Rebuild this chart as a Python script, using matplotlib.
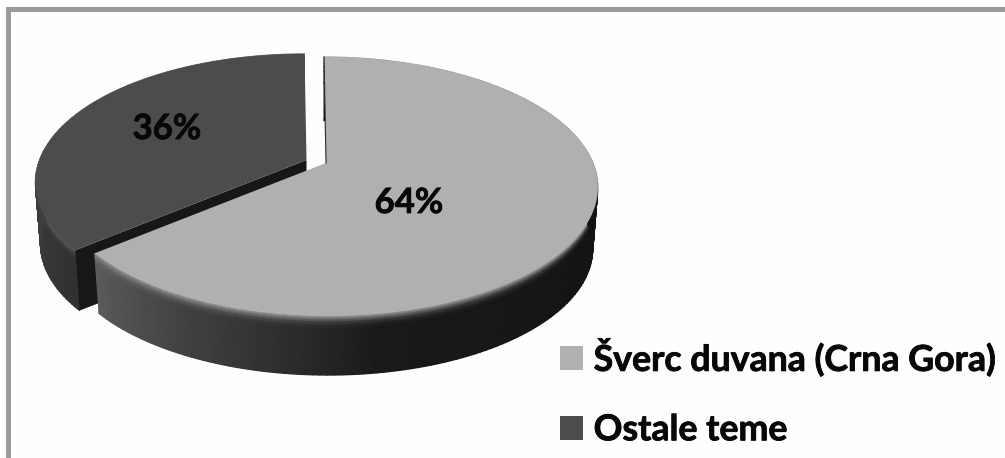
import numpy as np
import matplotlib
matplotlib.use("Agg")
import matplotlib.pyplot as plt
import matplotlib.patheffects as pe
from matplotlib.patches import Patch, Rectangle

# data
categories = ["Šverc duvana (Crna Gora)", "Ostale teme"]
values = [64, 36]

# style
top_colors = ["#b0b0b0", "#4c4c4c"]
frame_color = "#9b9b9e"
plt.rcParams["font.family"] = ["Lato", "DejaVu Sans"]
heft = [pe.withStroke(linewidth=0.6, foreground="#080808")]

fig = plt.figure(figsize=(10.05, 4.58), dpi=100, facecolor="#fefefe")
ax = fig.add_axes([0, 0, 1, 1])

# perspective pie geometry, in pixels
RX, RY, K, TILT = 267.0, 125.3, 0.181, 2.0
RX2, RY2, DEPTH = 262.0, 123.0, 62.0
CENTERS = [(326.0, 163.0), (306.5, 160.0)]


def project(theta, center, f=0.0):
    t = np.radians(theta)
    u, v = np.sin(t), -np.cos(t)
    s = 1.0 / (1.0 - K * v)
    x = center[0] + (RX + (RX2 - RX) * f) * u * s + TILT * v
    y = center[1] + DEPTH * f + (RY + (RY2 - RY) * f) * v * s
    return x, y


def wall(t0, t1, center, body_t, body_v, rim_f, rim_v, z):
    th = np.linspace(t0, t1, 180)
    fr = np.array([0.0, 0.05, 0.10, 0.16, 0.22, 0.4, 1.0])
    T, F = np.meshgrid(th, fr)
    X, Y = project(T, center, F)
    body = np.interp(T, body_t, body_v)
    rim = np.interp(T, body_t, rim_v)
    blend = np.interp(F, rim_f, [1.0, 0.62, 0.25, 0.0])
    C = body + (rim - body) * blend
    ax.pcolormesh(X, Y, C, shading="gouraud", cmap="gray", vmin=0, vmax=1, zorder=z)


bounds = np.concatenate([[0], np.cumsum(values)]) / np.sum(values) * 360.0
t_split = bounds[1]

# back slice (36 %)
c = CENTERS[1]
wall(t_split, 360.0, c, [230, 260, 300, 360], [0.19, 0.24, 0.27, 0.27],
     [0, 0.05, 0.10, 0.18], [0.36, 0.38, 0.40, 0.40], 2)
x0, y0 = project(t_split, c)
x1, y1 = project(t_split, c, 1.0)
ax.fill([c[0], x0, x1, c[0]], [c[1], y0, y1, c[1] + DEPTH], color="#171717", lw=0, zorder=3)
th = np.linspace(t_split, 360.0, 240)
x, y = project(th, c)
ax.fill(np.r_[c[0], x], np.r_[c[1], y], color=top_colors[1], lw=0, zorder=4)

# front slice (64 %)
c = CENTERS[0]
wall(0.0, t_split, c, [0, 120, 170, 190, 210, 231], [0.07, 0.08, 0.10, 0.19, 0.27, 0.36],
     [0, 0.05, 0.10, 0.18], [0.66, 0.66, 0.60, 0.60, 0.58, 0.55], 5)
th = np.linspace(0.0, t_split, 400)
x, y = project(th, c)
ax.fill(np.r_[c[0], x], np.r_[c[1], y], color=top_colors[0], lw=0, zorder=6)
x0, y0 = project(0.0, c)
ax.plot([x0, c[0]], [y0, c[1]], color="#2a2a2a", lw=0.8, zorder=7)

# value labels
label_pos = [(409, 203), (167, 129)]
for val, (lx, ly) in zip(values, label_pos):
    ax.text(lx, ly, f"{val}%", ha="center", va="center", fontsize=25,
            fontweight="bold", color="#080808", zorder=8, path_effects=heft)

# frame
ax.add_patch(Rectangle((6, 7), 999, 5, color=frame_color, lw=0, zorder=1))
ax.add_patch(Rectangle((6, 7), 5, 451, color=frame_color, lw=0, zorder=1))

# legend
handles = [Patch(facecolor=col, edgecolor="none") for col in top_colors]
leg = ax.legend(handles, categories, loc="lower left", bbox_to_anchor=(549, 457),
                bbox_transform=ax.transData, frameon=False,
                prop={"weight": "bold", "size": 25.7},
                handlelength=0.65, handleheight=0.65, handletextpad=0.3, labelspacing=1.02,
                labelcolor="#080808", borderaxespad=0, borderpad=0.3)
for t in leg.get_texts():
    t.set_path_effects(heft)

ax.set_xlim(0, 1005)
ax.set_ylim(458, 0)
ax.axis("off")
fig.savefig("out.png", dpi=100, facecolor=fig.get_facecolor())
